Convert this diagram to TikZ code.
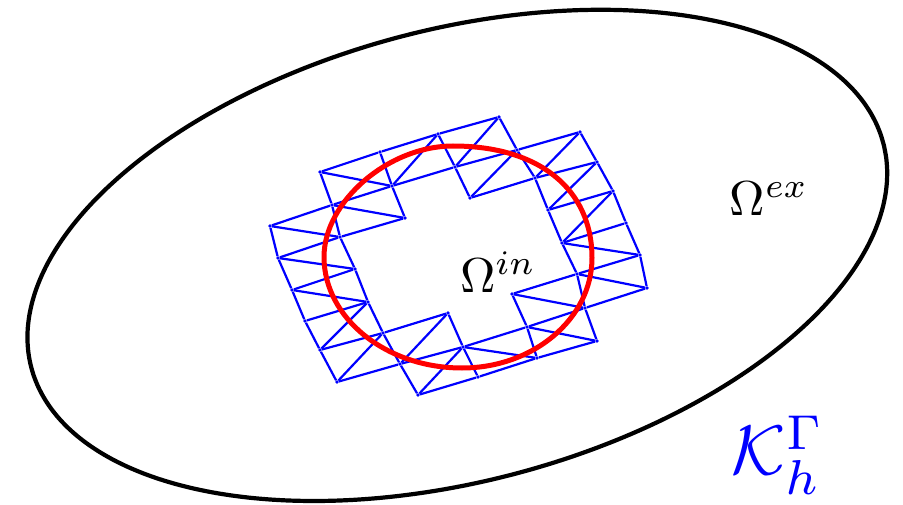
\documentclass[tikz,border=0pt]{standalone}
\tikzset{
  vtx/.style={circle, fill=blue, inner sep=0pt, minimum size=3.6pt},
  mesh/.style={blue, line width=2.2pt},
  lab/.style={inner sep=0pt, scale=4.9}
}
\begin{document}
\begin{tikzpicture}[x=1pt, y=-1pt]
  \useasboundingbox (0,0) rectangle (903,505);
  \draw[line width=4.2pt] plot[domain=0:360, samples=120, smooth]
    ({458+(1+0.012*sin(\x))*(426*cos(\x)-57.5*sin(\x))},{258-(1+0.012*sin(\x))*(112.2*cos(\x)+218.5*sin(\x))});
  \foreach \name/\x/\y in {ta/320/172, tb/380/152, tc/438/134, td/499/117,
      ma/332/205, mb/392/186, mc/455/167, md/517/150, me/580/132,
      na/405/218, nb/470/198, nc/535/178, nd/597/162,
      la/270/226, lb/278/258, lc/292/290, ld/305/321, le/320/350, lf/337/382,
      ia/340/237, ib/355/269, ic/368/302, id/383/333, ie/400/364, ig/418/395,
      ba/448/313, bb/463/347, bc/478/377, bd/512/294, be/527/327, bf/537/358,
      rg/577/274, rh/585/308, ri/597/341, rj/647/288, rk/640/255, rl/626/223,
      rm/613/191, rn/562/243, ro/548/210}
    \node[vtx] (\name) at (\x,\y) {};
  \draw[mesh] (ta) -- (tb) -- (tc) -- (td);
  \draw[mesh] (ma) -- (mb) -- (mc) -- (md) -- (me);
  \draw[mesh] (la) -- (lb) -- (lc) -- (ld) -- (le) -- (lf);
  \draw[mesh] (ma) -- (ia) -- (ib) -- (ic) -- (id) -- (ie) -- (ig);
  \draw[mesh] (ta) -- (ma);
  \draw[mesh] (tb) -- (mb) -- (na);
  \draw[mesh] (tc) -- (mc) -- (nb);
  \draw[mesh] (td) -- (md) -- (nc) -- (ro) -- (rn) -- (rg) -- (rh) -- (ri);
  \draw[mesh] (me) -- (nd) -- (rm) -- (rl) -- (rk) -- (rj);
  \draw[mesh] (la) -- (ma);
  \draw[mesh] (lb) -- (ia) -- (na);
  \draw[mesh] (lc) -- (ib);
  \draw[mesh] (ld) -- (ic);
  \draw[mesh] (le) -- (id) -- (ba);
  \draw[mesh] (lf) -- (ie) -- (bb) -- (be) -- (rh) -- (rj);
  \draw[mesh] (ig) -- (bc) -- (bf) -- (ri);
  \draw[mesh] (ba) -- (bb) -- (bc);
  \draw[mesh] (bd) -- (be) -- (bf);
  \draw[mesh] (bd) -- (rg) -- (rk);
  \draw[mesh] (nb) -- (nc) -- (nd);
  \draw[mesh] (ro) -- (rm);
  \draw[mesh] (rn) -- (rl);
  \foreach \a/\b in {ta/mb, mb/tc, mc/td, nb/md, nc/me, ro/nd, rn/rm, rn/rk,
      bd/rh, rg/rj, be/ri, la/ia, ma/na, lb/ib, lc/ic, le/ic, lf/id, ie/ba,
      ig/bb, bb/bf}
    \draw[mesh] (\a) -- (\b);
  \draw[red, line width=5pt] (453,146) .. controls (539,146) and (592,189) .. (592,258)
    .. controls (592,318.5) and (533.5,368) .. (462,368)
    .. controls (386,368) and (324,318) .. (324,257)
    .. controls (324,201.5) and (388.5,146) .. cycle;
  \node[lab] (omin) at (498,272) {$\Omega^{in}$};
  \node[lab] (omex) at (769,199) {$\Omega^{ex}$};
  \node[lab, blue, scale=1.43] (kh) at (778,455) {$\mathcal{K}_h^\Gamma$};
\end{tikzpicture}
\end{document}
